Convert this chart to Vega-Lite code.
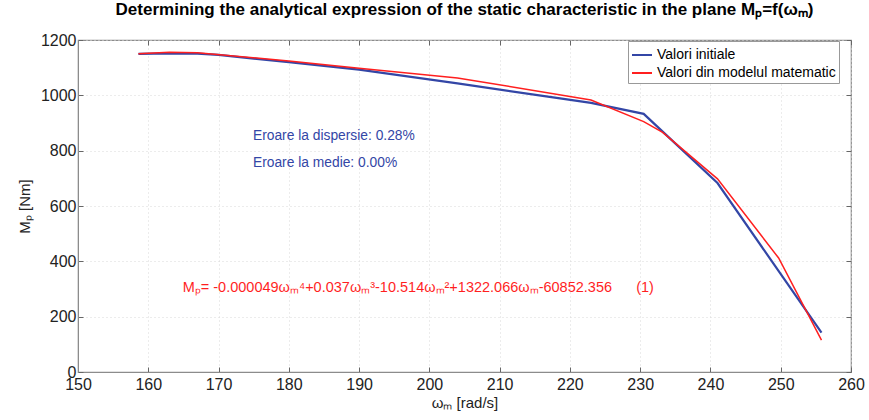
{
  "$schema": "https://vega.github.io/schema/vega-lite/v6.json",
  "autosize": {"type": "none"},
  "width": 773,
  "height": 332,
  "padding": {"left": 78, "top": 40, "right": 18, "bottom": 48},
  "background": "white",
  "title": {
    "text": "Determining the analytical expression of the static characteristic in the plane Mₚ=f(ωₘ)",
    "font": "Liberation Sans",
    "fontSize": 17,
    "fontWeight": "bold",
    "color": "black",
    "anchor": "middle",
    "offset": 13
  },
  "config": {
    "view": {"stroke": "#8c8c8c", "strokeWidth": 1.2},
    "axis": {
      "labelFont": "Liberation Sans",
      "titleFont": "Liberation Sans",
      "labelFontSize": 16,
      "titleFontSize": 15,
      "labelColor": "#222",
      "titleColor": "#222",
      "titleFontWeight": "normal",
      "domainColor": "#8c8c8c",
      "tickColor": "#666",
      "tickSize": -5,
      "labelPadding": 7,
      "labelFlush": false,
      "labelOverlap": false,
      "gridColor": "#d9d9d9",
      "gridDash": [1, 3]
    },
    "legend": {
      "labelFont": "Liberation Sans",
      "labelFontSize": 14,
      "labelColor": "black",
      "labelLimit": 400
    }
  },
  "datasets": {
    "pts": [
      {"w": 158.6, "M": 1150, "series": "Valori initiale"},
      {"w": 163, "M": 1152, "series": "Valori initiale"},
      {"w": 167, "M": 1151, "series": "Valori initiale"},
      {"w": 170, "M": 1146, "series": "Valori initiale"},
      {"w": 180, "M": 1120, "series": "Valori initiale"},
      {"w": 190, "M": 1093, "series": "Valori initiale"},
      {"w": 204, "M": 1043, "series": "Valori initiale"},
      {"w": 218.6, "M": 989, "series": "Valori initiale"},
      {"w": 223, "M": 973, "series": "Valori initiale"},
      {"w": 230.5, "M": 933, "series": "Valori initiale"},
      {"w": 241, "M": 683, "series": "Valori initiale"},
      {"w": 255.8, "M": 142, "series": "Valori initiale"},
      {"w": 158.6, "M": 1150, "series": "Valori din modelul matematic"},
      {"w": 163, "M": 1156, "series": "Valori din modelul matematic"},
      {"w": 167, "M": 1154, "series": "Valori din modelul matematic"},
      {"w": 180, "M": 1124, "series": "Valori din modelul matematic"},
      {"w": 190, "M": 1098, "series": "Valori din modelul matematic"},
      {"w": 204, "M": 1063, "series": "Valori din modelul matematic"},
      {"w": 223, "M": 983, "series": "Valori din modelul matematic"},
      {"w": 230.5, "M": 905, "series": "Valori din modelul matematic"},
      {"w": 233.2, "M": 866, "series": "Valori din modelul matematic"},
      {"w": 241, "M": 698, "series": "Valori din modelul matematic"},
      {"w": 249.7, "M": 412, "series": "Valori din modelul matematic"},
      {"w": 255.8, "M": 115, "series": "Valori din modelul matematic"}
    ],
    "notes": [
      {"w": 174.9, "M": 853, "label": "Eroare la dispersie: 0.28%", "kind": "err"},
      {"w": 174.9, "M": 755, "label": "Eroare la medie: 0.00%", "kind": "err"},
      {"w": 164.9, "M": 302, "label": "Mₚ= -0.000049ωₘ⁴+0.037ωₘ³-10.514ωₘ²+1322.066ωₘ-60852.356\u00a0\u00a0\u00a0\u00a0\u00a0\u00a0(1)", "kind": "eq"}
    ]
  },
  "resolve": {"axis": {"x": "independent", "y": "independent"}},
  "layer": [
    {
      "data": {"name": "pts"},
      "transform": [{"filter": "datum.series === 'Valori initiale'"}],
      "mark": {"type": "line", "strokeWidth": 2.2},
      "encoding": {
        "x": {
          "field": "w", "type": "quantitative",
          "scale": {"domain": [150, 260], "nice": false},
          "axis": {"title": "ωₘ [rad/s]", "tickCount": 11, "format": "d", "labelPadding": 9, "titlePadding": 3, "grid": true}
        },
        "y": {
          "field": "M", "type": "quantitative",
          "scale": {"domain": [0, 1200], "nice": false},
          "axis": {"title": "Mₚ [Nm]", "tickCount": 6, "format": "d", "titlePadding": 8, "grid": true}
        },
        "color": {
          "field": "series", "type": "nominal",
          "scale": {"domain": ["Valori initiale", "Valori din modelul matematic"], "range": ["#3346a6", "#ff1f1f"]},
          "legend": {
            "title": null,
            "orient": "none",
            "legendX": 550,
            "legendY": 1,
            "symbolType": "stroke",
            "symbolSize": 400,
            "symbolStrokeWidth": 2,
            "strokeColor": "#999",
            "fillColor": "white",
            "padding": 3,
            "rowPadding": 0,
            "labelOffset": 4
          }
        }
      }
    },
    {
      "data": {"name": "pts"},
      "transform": [{"filter": "datum.series === 'Valori din modelul matematic'"}],
      "mark": {"type": "line", "strokeWidth": 1.5},
      "encoding": {
        "x": {
          "field": "w", "type": "quantitative",
          "axis": {"orient": "top", "labels": false, "title": null, "grid": false, "domain": false, "tickCount": 11}
        },
        "y": {
          "field": "M", "type": "quantitative",
          "axis": {"orient": "right", "labels": false, "title": null, "grid": false, "domain": false, "tickCount": 6}
        },
        "color": {"field": "series", "type": "nominal"}
      }
    },
    {
      "data": {"name": "notes"},
      "mark": {"type": "text", "align": "left", "baseline": "middle", "font": "Liberation Sans"},
      "encoding": {
        "x": {"field": "w", "type": "quantitative", "axis": null},
        "y": {"field": "M", "type": "quantitative", "axis": null},
        "text": {"field": "label"},
        "size": {"condition": {"test": "datum.kind === 'eq'", "value": 14.5}, "value": 13.8},
        "color": {"condition": {"test": "datum.kind === 'eq'", "value": "#ff1f1f"}, "value": "#3346a6"}
      }
    }
  ]
}
